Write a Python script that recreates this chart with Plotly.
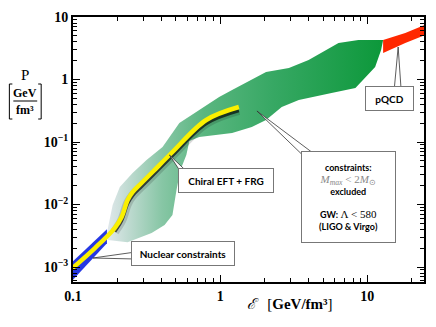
import plotly.graph_objects as go

# allowed region (green band): upper edge left->right, lower edge right->left
band_upper_e = [0.170, 0.186, 0.208, 0.254, 0.316, 0.406, 0.528, 0.721, 0.984, 1.205, 2.05, 2.93, 3.99, 6.37, 8.69, 12.8]
band_upper_p = [0.0035, 0.0098, 0.019, 0.0319, 0.0515, 0.083, 0.201, 0.325, 0.525, 0.679, 1.32, 1.53, 2.05, 3.84, 4.29, 4.29]
band_lower_e = [12.8, 12.4, 11.3, 8.3, 5.71, 3.42, 2.62, 2.05, 1.64, 1.205, 0.721, 0.618, 0.589, 0.537, 0.505, 0.474, 0.419, 0.342, 0.235, 0.172]
band_lower_p = [4.29, 2.96, 1.58, 0.731, 0.608, 0.47, 0.363, 0.225, 0.174, 0.139, 0.120, 0.104, 0.0619, 0.0356, 0.0171, 0.0068, 0.0047, 0.0035, 0.0025, 0.0027]

# pQCD band
pqcd_upper_e = [12.8, 18.1, 25.0]
pqcd_upper_p = [4.29, 5.55, 7.6]
pqcd_lower_e = [25.0, 18.1, 12.8]
pqcd_lower_p = [5.2, 3.84, 2.65]

# nuclear constraints (blue)
nuc_e = [0.095, 0.17, 0.17, 0.095]
nuc_p = [0.0011, 0.0040, 0.0024, 0.00055]

# Chiral EFT + FRG
chiral_e = [0.095, 0.141, 0.192, 0.214, 0.235, 0.254, 0.292, 0.347, 0.474, 0.804, 1.34]
chiral_p = [0.00088, 0.00201, 0.0042, 0.0063, 0.0118, 0.0158, 0.0221, 0.0331, 0.0692, 0.225, 0.363]

x_ticks = [0.1, 1, 10]
x_ticktext = ["0.1", "1", "10"]
x_minor = [m * 10 ** e for e in (-1, 0, 1) for m in range(2, 10)]
y_ticks = [1e-3, 1e-2, 1e-1, 1, 10]
y_ticktext = ["10<sup>−3</sup>", "10<sup>−2</sup>", "10<sup>−1</sup>", "1", "10"]
y_minor = [m * 10 ** e for e in (-4, -3, -2, -1, 0) for m in range(2, 10)]

# plot area in pixels (for placing text boxes)
L, R, T, B = 73, 426, 17, 282


def px(x):
    return (x - L) / (R - L)


def py(y):
    return (B - y) / (B - T)


fig = go.Figure()

fig.add_trace(go.Scatter(
    x=band_upper_e + band_lower_e, y=band_upper_p + band_lower_p,
    fill="toself", mode="none",
    fillgradient=dict(type="horizontal", colorscale=[
        [0.0, "rgba(225,232,236,1)"],
        [0.08, "rgba(190,218,208,1)"],
        [0.2, "rgba(135,198,165,1)"],
        [0.35, "rgba(90,182,128,1)"],
        [0.6, "rgba(55,168,100,1)"],
        [1.0, "rgba(12,152,58,1)"],
    ]),
    hoverinfo="skip",
))

fig.add_trace(go.Scatter(
    x=pqcd_upper_e + pqcd_lower_e, y=pqcd_upper_p + pqcd_lower_p,
    fill="toself", mode="none", fillcolor="rgb(255,40,0)", hoverinfo="skip",
))

fig.add_trace(go.Scatter(
    x=nuc_e, y=nuc_p, fill="toself", mode="none",
    fillcolor="rgba(25,45,225,0.95)", hoverinfo="skip",
))

# soft shadow under the chiral line
shadow_e = chiral_e[2:]
shadow_p = [p * 0.88 for p in chiral_p[2:]]
fig.add_trace(go.Scatter(x=shadow_e, y=shadow_p, mode="lines",
                         line=dict(color="rgba(0,0,0,0.15)", width=9, shape="spline"), hoverinfo="skip"))
fig.add_trace(go.Scatter(x=shadow_e, y=shadow_p, mode="lines",
                         line=dict(color="rgba(0,0,0,0.65)", width=3.5, shape="spline"), hoverinfo="skip"))
fig.add_trace(go.Scatter(x=chiral_e, y=chiral_p, mode="lines",
                         line=dict(color="rgb(250,240,0)", width=4.5, shape="spline"), hoverinfo="skip"))

sans = "Lato"
serif = "Liberation Serif"
box = dict(bgcolor="white", bordercolor="#777", borderwidth=1, borderpad=2,
           showarrow=False, xanchor="center", yanchor="middle",
           xref="paper", yref="paper",
           font=dict(family=sans, size=10, color="black"))


def callout(text, tip, base1, base2, center, w, h, **kw):
    # pointer wedge from the box to the marked region, then the box on top
    fig.add_shape(type="path", xref="paper", yref="paper", layer="above",
                  fillcolor="white", line=dict(color="#333", width=0.8),
                  path=f"M {px(base1[0])} {py(base1[1])} L {px(tip[0])} {py(tip[1])} "
                       f"L {px(base2[0])} {py(base2[1])} Z")
    d = dict(box)
    d.update(kw)
    fig.add_annotation(text=text, x=px(center[0]), y=py(center[1]), width=w, height=h, **d)


callout("<b>pQCD</b>", (400, 47), (396, 90), (403, 90), (391.5, 98.5), 43, 19)
callout("<b>Chiral EFT + FRG</b>", (170, 155), (182, 173), (189, 173), (227, 180.5), 90, 19)
callout("<b>Nuclear constraints</b>", (93, 258), (136, 252), (136, 259), (184, 253.5), 98, 19)
callout("<b>constraints:</b><br>"
        "<span style='font-family:Liberation Serif;color:#888;font-size:11px'><i>M<sub>max</sub></i> &lt; 2<i>M</i><sub>⊙</sub></span><br>"
        "<b>excluded</b><br><br>"
        "<b>GW:</b> <span style='font-family:Liberation Serif;font-size:11px'>Λ &lt; 580</span><br>"
        "<b>(LIGO &amp; Virgo)</b>",
        (258, 111), (307, 158), (317, 155), (350.5, 197), 89, 86, font=dict(family=sans, size=9, color="black"))

# axis titles
lab = dict(xref="paper", yref="paper", showarrow=False, xanchor="center", yanchor="middle",
           font=dict(family=serif, size=15, color="black"))
small = dict(lab, font=dict(family=serif, size=12, color="black"))
fig.add_annotation(text="P", x=px(25), y=py(75), **lab)
fig.add_annotation(text="<b>GeV</b>", x=px(25), y=py(93), **small)
fig.add_annotation(text="<b>fm³</b>", x=px(25), y=py(110), **small)
fig.add_annotation(text="<i>ℰ</i>   [<b>GeV/fm³</b>]", x=px(291), y=py(304), **lab)

# fraction bar and brackets of the y label
thin = dict(color="black", width=1)
fig.add_shape(type="line", xref="paper", yref="paper", x0=px(13), x1=px(37), y0=py(101), y1=py(101), line=thin)
fig.add_shape(type="path", xref="paper", yref="paper", line=thin,
              path=f"M {px(12)} {py(84)} L {px(9)} {py(84)} L {px(9)} {py(119)} L {px(12)} {py(119)}")
fig.add_shape(type="path", xref="paper", yref="paper", line=thin,
              path=f"M {px(38)} {py(84)} L {px(41)} {py(84)} L {px(41)} {py(119)} L {px(38)} {py(119)}")

axis = dict(type="log", showline=True, linecolor="black", linewidth=2, mirror="allticks",
            ticks="inside", ticklen=7, tickcolor="black", tickwidth=1,
            showgrid=False, zeroline=False,
            tickfont=dict(family=serif, size=14, color="black", weight="bold"))

fig.update_xaxes(range=[-1, 1.385], tickvals=x_ticks, ticktext=x_ticktext,
                 minor=dict(ticks="inside", ticklen=4, tickvals=x_minor, tickcolor="black"), **axis)
fig.update_yaxes(range=[-3.24, 1.0], tickvals=y_ticks, ticktext=y_ticktext,
                 minor=dict(ticks="inside", ticklen=4, tickvals=y_minor, tickcolor="black"), **axis)

fig.update_layout(
    width=436, height=327,
    margin=dict(l=L, r=436 - R, t=T, b=327 - B),
    plot_bgcolor="white", paper_bgcolor="white",
    showlegend=False,
)

fig.write_html("out.html", config={"displayModeBar": False},
               post_script="document.body.style.margin='0px';")
